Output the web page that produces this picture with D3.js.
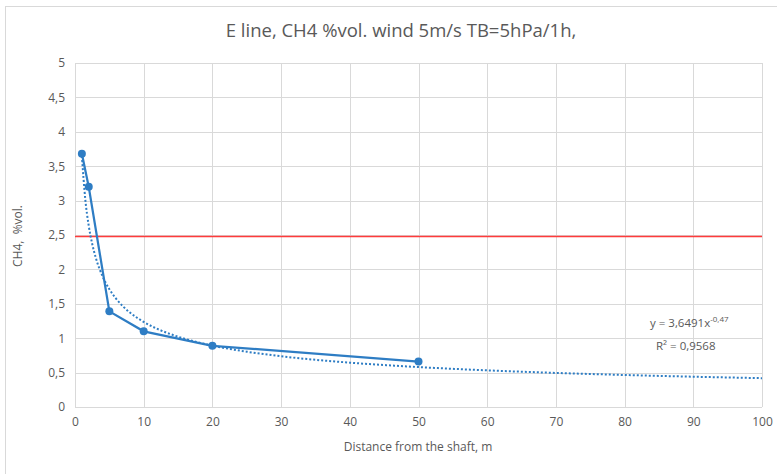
<!DOCTYPE html>
<html lang="en">
<head>
<meta charset="UTF-8">
<title>E line CH4</title>
<script src="https://cdnjs.cloudflare.com/ajax/libs/d3/7.8.2/d3.min.js"></script>
<style>
    body { margin: 0; background: #fff; }
    svg text { font-family: "Open Sans", "Noto Sans", sans-serif; fill: #595959; }
</style>
</head>
<body>
<div class="container"></div>
<script>
    // data
    const distances = [1, 2, 5, 10, 20, 50];
    const ch4Values = [3.68, 3.2, 1.39, 1.1, 0.89, 0.66];
    const limitValue = 2.48;
    const trendCoef = 3.6491;
    const trendExp = -0.47;
    const trendX = [1, 1.5, 2, 2.5, 3, 4, 5, 6, 7, 8, 10, 12, 15, 20, 25, 30, 40, 50, 60, 70, 80, 90, 100];
    const xTicks = [0, 10, 20, 30, 40, 50, 60, 70, 80, 90, 100];
    const yTicks = [0, 0.5, 1, 1.5, 2, 2.5, 3, 3.5, 4, 4.5, 5];

    const width = 777;
    const height = 474;
    const plotLeft = 75, plotRight = 762, plotTop = 63, plotBottom = 407;

    const svg = d3.select('.container').append('svg')
        .attr('width', width).attr('height', height);

    // chart frame
    svg.append('rect')
        .attr('x', 5.5).attr('y', 6.5)
        .attr('width', 780).attr('height', 480)
        .attr('fill', 'none').attr('stroke', '#d9d9d9');

    const x = d3.scaleLinear().domain([0, 100]).range([plotLeft, plotRight]);
    const y = d3.scaleLinear().domain([0, 5]).range([plotBottom, plotTop]);

    // grid
    svg.append('g').selectAll('line').data(yTicks).enter().append('line')
        .attr('x1', plotLeft).attr('x2', plotRight)
        .attr('y1', d => Math.round(y(d)) + 0.5).attr('y2', d => Math.round(y(d)) + 0.5)
        .attr('stroke', '#d9d9d9');
    svg.append('g').selectAll('line').data(xTicks).enter().append('line')
        .attr('y1', plotTop).attr('y2', plotBottom)
        .attr('x1', d => Math.round(x(d)) + 0.5).attr('x2', d => Math.round(x(d)) + 0.5)
        .attr('stroke', '#d9d9d9');

    // axes
    const xAxis = d3.axisBottom(x).tickValues(xTicks).tickSize(0).tickPadding(10);
    svg.append('g').attr('transform', `translate(0,${plotBottom})`).call(xAxis)
        .call(g => g.select('.domain').remove())
        .selectAll('text').style('font-size', '12px');

    const yAxis = d3.axisLeft(y).tickValues(yTicks).tickSize(0).tickPadding(10)
        .tickFormat(d => String(d).replace('.', ','));
    svg.append('g').attr('transform', `translate(${plotLeft},0)`).call(yAxis)
        .call(g => g.select('.domain').remove())
        .selectAll('text').style('font-size', '12px');

    // limit line
    svg.append('line')
        .attr('x1', plotLeft).attr('x2', plotRight)
        .attr('y1', y(limitValue)).attr('y2', y(limitValue))
        .attr('stroke', '#ff3b3b').attr('stroke-width', 1.5);

    // trendline
    const trendLine = d3.line()
        .curve(d3.curveMonotoneX)
        .x(d => x(d))
        .y(d => y(trendCoef * Math.pow(d, trendExp)));
    svg.append('path').datum(trendX)
        .attr('d', trendLine)
        .attr('fill', 'none')
        .attr('stroke', '#2e7dc4')
        .attr('stroke-width', 2)
        .attr('stroke-dasharray', '2,2');

    // data series
    const pts = distances.map((d, i) => [d, ch4Values[i]]);
    svg.append('path').datum(pts)
        .attr('d', d3.line().x(d => x(d[0])).y(d => y(d[1])))
        .attr('fill', 'none')
        .attr('stroke', '#2e7dc4')
        .attr('stroke-width', 2.25);
    svg.selectAll('circle').data(pts).enter().append('circle')
        .attr('cx', d => x(d[0])).attr('cy', d => y(d[1]))
        .attr('r', 4).attr('fill', '#2e7dc4');

    // trend labels
    const eq = svg.append('text').attr('x', 650).attr('y', 327).style('font-size', '11.5px');
    eq.append('tspan').text('y = 3,6491x');
    eq.append('tspan').attr('dy', -5).style('font-size', '8px').text('-0,47');
    svg.append('text').attr('x', 656).attr('y', 350).style('font-size', '11.5px').text('R² = 0,9568');

    // titles
    svg.append('text').attr('x', 401).attr('y', 37)
        .attr('text-anchor', 'middle').style('font-size', '18.5px')
        .text('E line, CH4 %vol. wind 5m/s TB=5hPa/1h,');
    svg.append('text').attr('x', 418).attr('y', 451)
        .attr('text-anchor', 'middle').style('font-size', '12px')
        .text('Distance from the shaft, m');
    svg.append('text')
        .attr('transform', 'translate(22,236) rotate(-90)')
        .attr('text-anchor', 'middle').style('font-size', '12px')
        .style('white-space', 'pre')
        .text('CH4,  %vol.');
</script>
</body>
</html>
